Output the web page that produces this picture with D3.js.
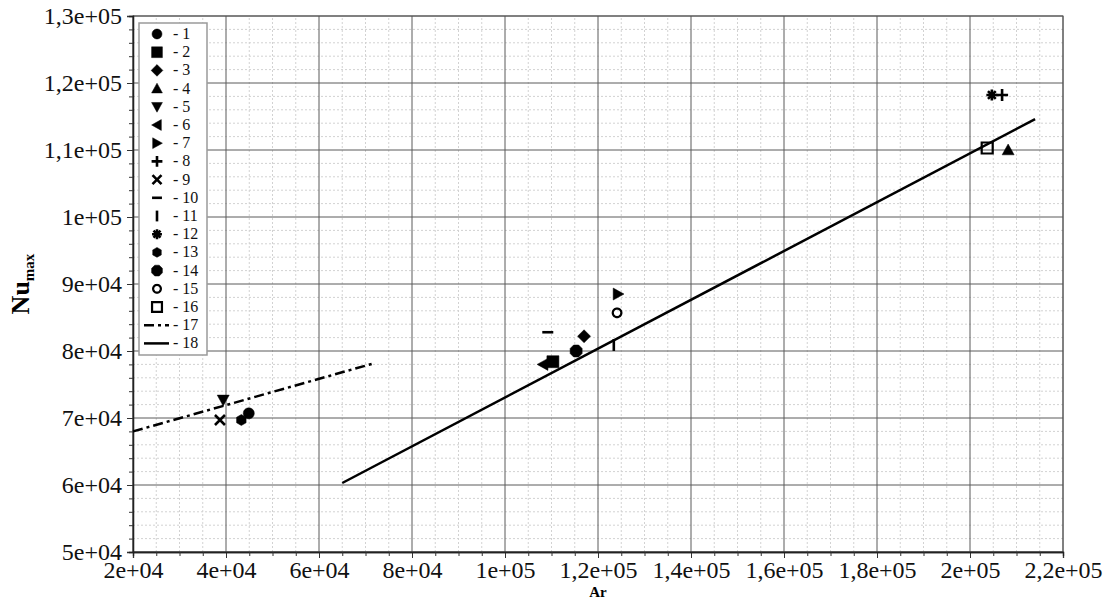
<!DOCTYPE html>
<html>
<head>
<meta charset="utf-8">
<script src="https://cdn.jsdelivr.net/npm/d3@7"></script>
<style>
  body { margin: 0; background: #fff; }
  svg, svg text { font-family: "Liberation Serif", "Times New Roman", serif !important; }
</style>
</head>
<body>
<svg></svg>
<script>
// -----------------------------
// DATA
// -----------------------------
let seriesNames = ["1", "2", "3", "4", "5", "6", "7", "8", "9", "10", "11", "12", "13", "14", "15", "16"];
let seriesShapes = ["circle", "square", "diamond", "triUp", "triDown", "triLeft", "triRight", "plus",
                    "cross", "dash", "bar", "asterisk", "smallOct", "octagon", "openCircle", "openSquare"];
let arValues = [44900, 110300, 117000, 208200, 39400, 108200, 124300, 206900,
                38700, 109200, 123400, 204700, 43300, 115300, 124100, 203700];
let nuValues = [70700, 78400, 82200, 110000, 72700, 78000, 88500, 118200,
                69700, 82800, 80900, 118200, 69700, 80000, 85700, 110300];

// fitted lines 17 (dash-dot) and 18 (solid)
let line17Ar = [20000, 72000];
let line17Nu = [68000, 78200];
let line18Ar = [65000, 214000];
let line18Nu = [60300, 114600];

let xTicks = [2e4, 4e4, 6e4, 8e4, 1e5, 1.2e5, 1.4e5, 1.6e5, 1.8e5, 2e5, 2.2e5];
let yTicks = [5e4, 6e4, 7e4, 8e4, 9e4, 1e5, 1.1e5, 1.2e5, 1.3e5];

// -----------------------------
// SETUP
// -----------------------------
let width = 1113,
    height = 600;

let margin = { top: 16, bottom: 48, left: 133, right: 50 };

let svg = d3.select("svg")
            .attr("width", width)
            .attr("height", height);

let xScale = d3.scaleLinear()
               .domain([2e4, 2.2e5])
               .range([margin.left, width - margin.right]);

let yScale = d3.scaleLinear()
               .domain([5e4, 1.3e5])
               .range([height - margin.bottom, margin.top]);

// 1,2e+05 style labels
function sciComma(v) {
  let e = Math.floor(Math.log10(v) + 1e-9);
  let m = Math.round(v / Math.pow(10, e) * 10) / 10;
  let ms = String(m).replace(".", ",");
  return ms + "e+" + String(e).padStart(2, "0");
}

// -----------------------------
// GRID
// -----------------------------
let xMinor = d3.range(2e4, 2.2e5 + 1, 5e3).filter(v => v % 2e4 !== 0);
let yMinor = d3.range(5e4, 1.3e5 + 1, 2e3).filter(v => v % 1e4 !== 0);

let grid = svg.append("g");

grid.selectAll(".xminor").data(xMinor).enter().append("line")
    .attr("x1", d => xScale(d)).attr("x2", d => xScale(d))
    .attr("y1", yScale(5e4)).attr("y2", yScale(1.3e5))
    .attr("stroke", "#d2d2d2").attr("stroke-dasharray", "2,2").attr("stroke-width", 1);

grid.selectAll(".yminor").data(yMinor).enter().append("line")
    .attr("y1", d => yScale(d)).attr("y2", d => yScale(d))
    .attr("x1", xScale(2e4)).attr("x2", xScale(2.2e5))
    .attr("stroke", "#d2d2d2").attr("stroke-dasharray", "2,2").attr("stroke-width", 1);

grid.selectAll(".xmajor").data(xTicks).enter().append("line")
    .attr("x1", d => xScale(d)).attr("x2", d => xScale(d))
    .attr("y1", yScale(5e4)).attr("y2", yScale(1.3e5))
    .attr("stroke", "#5a5a5a").attr("stroke-width", 1);

grid.selectAll(".ymajor").data(yTicks).enter().append("line")
    .attr("y1", d => yScale(d)).attr("y2", d => yScale(d))
    .attr("x1", xScale(2e4)).attr("x2", xScale(2.2e5))
    .attr("stroke", "#5a5a5a").attr("stroke-width", 1);

// frame
svg.append("rect")
   .attr("x", xScale(2e4)).attr("y", yScale(1.3e5))
   .attr("width", xScale(2.2e5) - xScale(2e4))
   .attr("height", yScale(5e4) - yScale(1.3e5))
   .attr("fill", "none").attr("stroke", "#555").attr("stroke-width", 1);

// -----------------------------
// AXES
// -----------------------------
svg.append("g")
   .attr("transform", `translate(0, ${yScale(5e4)})`)
   .call(d3.axisBottom(xScale).tickValues(xTicks).tickFormat(sciComma).tickSize(6).tickPadding(3));

svg.append("g")
   .attr("transform", `translate(0, ${yScale(5e4)})`)
   .call(d3.axisBottom(xScale).tickValues(xMinor).tickFormat("").tickSize(4));

svg.append("g")
   .attr("transform", `translate(${xScale(2e4)}, 0)`)
   .call(d3.axisLeft(yScale).tickValues(yTicks).tickFormat(sciComma).tickSize(6).tickPadding(5));

svg.append("g")
   .attr("transform", `translate(${xScale(2e4)}, 0)`)
   .call(d3.axisLeft(yScale).tickValues(yMinor).tickFormat("").tickSize(4));

svg.selectAll(".domain").attr("stroke", "#222").attr("stroke-width", 1.3);
svg.selectAll(".tick line").attr("stroke", "#333");
svg.selectAll(".tick text")
   .attr("font-size", 24)
   .attr("fill", "#111");

// -----------------------------
// LABELS
// -----------------------------
svg.append("text")
   .attr("x", (xScale(2e4) + xScale(2.2e5)) / 2)
   .attr("y", 597)
   .attr("text-anchor", "middle")
   .attr("font-weight", "bold")
   .attr("font-size", 15)
   .text("Ar");

let ylab = svg.append("text")
   .attr("transform", `translate(29, ${(yScale(5e4) + yScale(1.3e5)) / 2}) rotate(-90)`)
   .attr("text-anchor", "middle")
   .attr("font-weight", "bold")
   .attr("font-size", 26);
ylab.append("tspan").text("Nu");
ylab.append("tspan").attr("font-size", 15).attr("dy", 5).text("max");

// -----------------------------
// MARKERS
// -----------------------------
function poly(pts) {
  return "M" + pts.map(p => p[0].toFixed(2) + "," + p[1].toFixed(2)).join("L") + "Z";
}
function ngon(n, r, rot) {
  return poly(d3.range(n).map(i => {
    let a = rot + i * 2 * Math.PI / n;
    return [r * Math.cos(a), r * Math.sin(a)];
  }));
}

// returns {d, fill, open}
function markerPath(shape, k) {
  let s = 6 * k;
  switch (shape) {
    case "circle":   return { d: ngon(40, 5.5 * k, 0), fill: true };
    case "square":   return { d: poly([[-s, -s], [s, -s], [s, s], [-s, s]]), fill: true };
    case "diamond":  return { d: poly([[0, -6.5 * k], [6.5 * k, 0], [0, 6.5 * k], [-6.5 * k, 0]]), fill: true };
    case "triUp":    return { d: poly([[0, -s], [s, s * 0.8], [-s, s * 0.8]]), fill: true };
    case "triDown":  return { d: poly([[0, s], [s, -s * 0.8], [-s, -s * 0.8]]), fill: true };
    case "triLeft":  return { d: poly([[-s, 0], [s * 0.8, -s], [s * 0.8, s]]), fill: true };
    case "triRight": return { d: poly([[s, 0], [-s * 0.8, -s], [-s * 0.8, s]]), fill: true };
    case "plus":     return { d: `M${-s},0L${s},0M0,${-s}L0,${s}`, fill: false };
    case "cross":    return { d: `M${-5 * k},${-5 * k}L${5 * k},${5 * k}M${-5 * k},${5 * k}L${5 * k},${-5 * k}`, fill: false };
    case "dash":     return { d: `M${-5.5 * k},0L${5.5 * k},0`, fill: false };
    case "bar":      return { d: `M0,${-s}L0,${s}`, fill: false };
    case "asterisk": {
      let r = 5.5 * k, c = r * Math.SQRT1_2;
      return { d: `M${-r},0L${r},0M0,${-r}L0,${r}M${-c},${-c}L${c},${c}M${-c},${c}L${c},${-c}`, fill: false };
    }
    case "smallOct": return { d: ngon(6, 5.5 * k, Math.PI / 2), fill: true };
    case "octagon":  return { d: ngon(8, 6.5 * k, Math.PI / 8), fill: true };
    case "openCircle": return { d: ngon(40, 4.3 * k, 0), fill: false, open: true };
    case "openSquare": return { d: poly([[-5.5 * k, -5.5 * k], [5.5 * k, -5.5 * k], [5.5 * k, 5.5 * k], [-5.5 * k, 5.5 * k]]), fill: false, open: true };
  }
}

function drawMarker(g, shape, k) {
  let m = markerPath(shape, k);
  g.append("path")
   .attr("d", m.d)
   .attr("fill", m.fill ? "#000" : "none")
   .attr("stroke", "#000")
   .attr("stroke-width", m.fill ? 0.5 : (m.open ? 2.2 : 2.6));
}

// -----------------------------
// LINES
// -----------------------------
let lineGen = d3.line().x(d => xScale(d[0])).y(d => yScale(d[1]));

svg.append("path")
   .datum(d3.zip(line17Ar, line17Nu))
   .attr("d", lineGen)
   .attr("fill", "none")
   .attr("stroke", "#000")
   .attr("stroke-width", 2.5)
   .attr("stroke-dasharray", "10,4,3,4");

svg.append("path")
   .datum(d3.zip(line18Ar, line18Nu))
   .attr("d", lineGen)
   .attr("fill", "none")
   .attr("stroke", "#000")
   .attr("stroke-width", 2.5);

// -----------------------------
// POINTS
// -----------------------------
let points = seriesNames.map((n, i) => ({ name: n, shape: seriesShapes[i], ar: arValues[i], nu: nuValues[i] }));

svg.selectAll(".pt")
   .data(points)
   .enter()
   .append("g")
   .attr("class", "pt")
   .attr("transform", d => `translate(${xScale(d.ar)}, ${yScale(d.nu)})`)
   .each(function(d) { drawMarker(d3.select(this), d.shape, 1); });

// -----------------------------
// LEGEND
// -----------------------------
let legend = svg.append("g").attr("transform", "translate(139, 23)");

legend.append("rect")
   .attr("width", 68).attr("height", 332)
   .attr("fill", "#fff")
   .attr("stroke", "#9a9a9a")
   .attr("stroke-width", 1.5);

let legendItems = seriesNames.map((n, i) => ({ name: n, shape: seriesShapes[i] }))
   .concat([{ name: "17", shape: "line17" }, { name: "18", shape: "line18" }]);

let rowH = 18.2;

legendItems.forEach((d, i) => {
  let row = legend.append("g").attr("transform", `translate(18, ${11 + i * rowH})`);
  if (d.shape === "line17") {
    row.append("line").attr("x1", -13).attr("x2", 12).attr("stroke", "#000")
       .attr("stroke-width", 2.5).attr("stroke-dasharray", "10,4,3,4");
  } else if (d.shape === "line18") {
    row.append("line").attr("x1", -13).attr("x2", 12).attr("stroke", "#000").attr("stroke-width", 2.5);
  } else {
    drawMarker(row, d.shape, 0.9);
  }
  row.append("text")
     .attr("x", 16)
     .attr("y", 5)
     .attr("font-size", 16)
     .attr("fill", "#111")
     .text("- " + d.name);
});
</script>
</body>
</html>
